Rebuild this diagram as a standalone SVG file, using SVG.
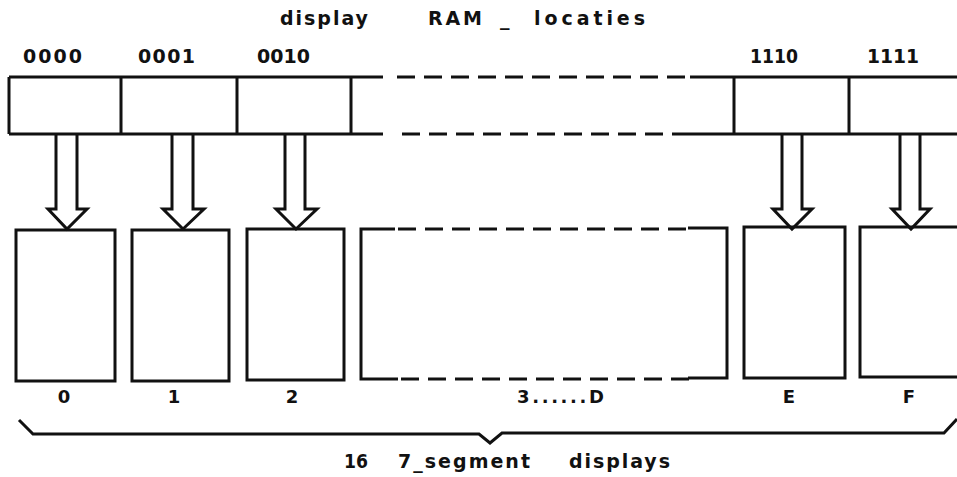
<svg xmlns="http://www.w3.org/2000/svg" width="957" height="477" viewBox="0 0 957 477">
<style>
.l{stroke:#111;stroke-width:3;fill:none;stroke-linejoin:miter}
.d{stroke:#111;stroke-width:3;fill:none;stroke-dasharray:18 9}
.t{font-family:"DejaVu Sans",sans-serif;font-size:19px;font-weight:bold;fill:#111}
.s{font-family:"DejaVu Sans",sans-serif;font-size:18px;font-weight:bold;fill:#111;text-anchor:middle}
</style>
<rect width="957" height="477" fill="#fff"/>
<g id="title">
<text class="t" x="280" y="25" textLength="88" lengthAdjust="spacing">display</text>
<text class="t" x="428" y="25" textLength="54" lengthAdjust="spacing">RAM</text>
<text class="t" x="500" y="25">_</text>
<text class="t" x="534" y="25" textLength="111" lengthAdjust="spacing">locaties</text>
</g>
<g id="ram">
<path class="l" d="M9,77 H383 M9,134 H383 M9,77 V134 M121,77 V134 M237,77 V134 M351,77 V134"/>
<path class="d" d="M397,77 H690 M402,134 H690"/>
<path class="l" d="M690,77 H960 M690,134 H960 M734,77 V134 M849,77 V134"/>
<text class="t" x="23" y="63" textLength="59" lengthAdjust="spacing">0000</text>
<text class="t" x="138" y="63" textLength="57" lengthAdjust="spacing">0001</text>
<text class="t" x="257" y="63" textLength="53" lengthAdjust="spacing">0010</text>
<text class="t" x="750" y="63" textLength="48" lengthAdjust="spacingAndGlyphs">1110</text>
<text class="t" x="867" y="63" textLength="52" lengthAdjust="spacingAndGlyphs">1111</text>
</g>
<g id="connectors">
<path class="l" d="M56,134 V209 H48 L67,229 L87,209 H77 V134"/>
<path class="l" d="M172,134 V209 H163 L183,229 L204,209 H193 V134"/>
<path class="l" d="M285,134 V209 H276 L296,229 L317,209 H305 V134"/>
<path class="l" d="M782,134 V209 H773 L792,229 L812,209 H802 V134"/>
<path class="l" d="M900,134 V209 H892 L911,229 L930,209 H920 V134"/>
</g>
<g id="disp0"><rect class="l" x="16" y="230" width="99" height="151"/><text class="s" x="64" y="403">0</text></g>
<g id="disp1"><rect class="l" x="132" y="230" width="97" height="151"/><text class="s" x="174" y="403">1</text></g>
<g id="disp2"><rect class="l" x="247" y="229" width="97" height="151"/><text class="s" x="292" y="403">2</text></g>
<g id="disp3D">
<path class="l" d="M395,229 H361 V379 H398"/>
<path class="d" d="M398,229 H690 M401,379 H690"/>
<path class="l" d="M688,228 H727 V378 H688"/>
<text class="s" x="517" y="403" style="text-anchor:start" textLength="87" lengthAdjust="spacing">3......D</text>
</g>
<g id="dispE"><rect class="l" x="744" y="227" width="101" height="151"/><text class="s" x="789" y="403">E</text></g>
<g id="dispF"><path class="l" d="M962,227 H860 V377 H962"/><text class="s" x="909" y="403">F</text></g>
<g id="brace">
<path class="l" d="M19,420 L33,434 H479 L490,443 L502,433 H944 L957,419"/>
<text class="t" x="344" y="468" textLength="24" lengthAdjust="spacingAndGlyphs">16</text>
<text class="t" x="398" y="468" textLength="132" lengthAdjust="spacing">7_segment</text>
<text class="t" x="569" y="468" textLength="101" lengthAdjust="spacing">displays</text>
</g>
</svg>
